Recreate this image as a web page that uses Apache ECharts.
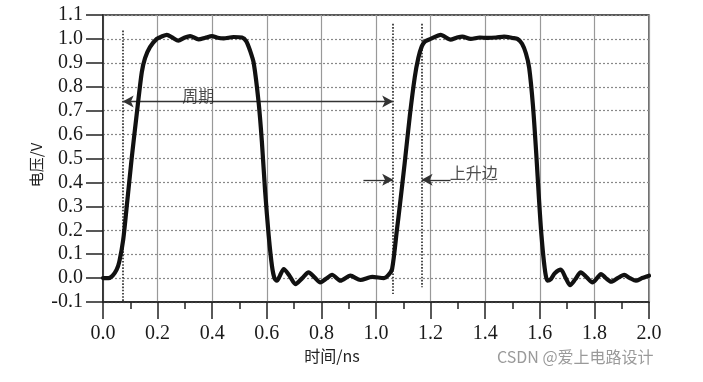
<!DOCTYPE html>
<html><head><meta charset="utf-8">
<script src="https://cdn.jsdelivr.net/npm/echarts@6/dist/echarts.min.js"></script>
<style>html,body{margin:0;padding:0;background:#fff}#c{width:703px;height:382px}</style>
</head><body><div id="c"></div>
<script>
// waveform samples (time in ns, voltage in V)
const timeNs = [0, 0.02, 0.035, 0.05, 0.06, 0.074, 0.087, 0.105, 0.124, 0.142, 0.154, 0.172, 0.197, 0.215, 0.234, 0.255, 0.276, 0.298, 0.319, 0.35, 0.375, 0.399, 0.42, 0.441, 0.478, 0.509, 0.525, 0.539, 0.552, 0.57, 0.582, 0.594, 0.607, 0.619, 0.628, 0.637, 0.648, 0.662, 0.683, 0.705, 0.73, 0.753, 0.775, 0.796, 0.818, 0.839, 0.87, 0.906, 0.943, 0.986, 1.029, 1.045, 1.059, 1.077, 1.087, 1.105, 1.124, 1.142, 1.155, 1.168, 1.18, 1.2, 1.237, 1.273, 1.295, 1.316, 1.347, 1.38, 1.41, 1.44, 1.469, 1.5, 1.518, 1.535, 1.549, 1.561, 1.575, 1.587, 1.597, 1.606, 1.617, 1.628, 1.64, 1.655, 1.677, 1.695, 1.711, 1.73, 1.75, 1.772, 1.793, 1.81, 1.824, 1.842, 1.861, 1.885, 1.909, 1.93, 1.952, 1.975, 2.0];
const voltage = [0, 0, 0.01, 0.035, 0.07, 0.16, 0.30, 0.50, 0.69, 0.86, 0.92, 0.966, 1.0, 1.01, 1.017, 1.005, 0.993, 1.005, 1.012, 0.998, 1.005, 1.012, 1.005, 1.002, 1.008, 1.006, 0.99, 0.95, 0.9, 0.735, 0.57, 0.36, 0.177, 0.05, 0.0, -0.011, 0.01, 0.038, 0.01, -0.025, 0.0, 0.024, 0.003, -0.018, -0.002, 0.014, -0.011, 0.01, -0.008, 0.005, 0.0, 0.012, 0.038, 0.205, 0.30, 0.48, 0.68, 0.84, 0.92, 0.97, 0.99, 1.0, 1.017, 0.997, 1.005, 1.01, 1.0, 1.006, 1.004, 1.006, 1.01, 1.004, 1.0, 0.98, 0.94, 0.88, 0.72, 0.52, 0.33, 0.18, 0.05, -0.011, -0.005, 0.02, 0.035, 0.0, -0.03, -0.005, 0.024, 0.003, -0.018, 0.0, 0.017, 0.0, -0.015, 0.0, 0.013, 0.0, -0.011, 0.0, 0.01];

// annotation geometry (data units)
const markerX = [0.072, 1.063, 1.167];
const markerTop = [1.035, 1.063, 1.063];
const markerBottom = [-0.1, -0.067, -0.038];
const periodArrow = {from: 0.072, to: 1.063, y: 0.738};
const riseArrowLeft = {from: 0.954, to: 1.063, y: 0.411};
const riseArrowRight = {from: 1.273, to: 1.167, y: 0.411};
const annotationNames = ['周期', '上升边'];
const annotationPos = [[0.349, 0.763], [1.27, 0.438]];

const xTicks = {min: 0, max: 2, step: 0.2};
const yTicks = {min: -0.1, max: 1.1, step: 0.1};

const chart = echarts.init(document.getElementById('c'));
const serif = 'Liberation Serif';
const cjk = 'Noto Sans CJK SC';

const waveData = timeNs.map((t, i) => [t, voltage[i]]);

const markLines = [];
markerX.forEach((x, i) => {
  markLines.push([{coord: [x, markerTop[i]], lineStyle: {type: 'dotted', width: 1.6, color: '#222'}, symbol: 'none'},
                  {coord: [x, markerBottom[i]], symbol: 'none'}]);
});
const arrowStyle = {type: 'solid', width: 1.3, color: '#333'};
markLines.push([{coord: [periodArrow.from, periodArrow.y], symbol: 'arrow', lineStyle: arrowStyle},
                {coord: [periodArrow.to, periodArrow.y], symbol: 'arrow'}]);
markLines.push([{coord: [riseArrowLeft.from, riseArrowLeft.y], symbol: 'none', lineStyle: arrowStyle},
                {coord: [riseArrowLeft.to, riseArrowLeft.y], symbol: 'arrow'}]);
markLines.push([{coord: [riseArrowRight.from, riseArrowRight.y], symbol: 'none', lineStyle: arrowStyle},
                {coord: [riseArrowRight.to, riseArrowRight.y], symbol: 'arrow'}]);

const numRich = {n: {fontFamily: serif, fontSize: 20, color: '#1a1a1a'}};
const numFmt = v => '{n|' + v.toFixed(1) + '}';

chart.setOption({
  animation: false,
  backgroundColor: '#fff',
  grid: {left: 103, right: 54, top: 15, bottom: 80, show: true, borderColor: '#222', borderWidth: 1.3, backgroundColor: 'transparent'},
  xAxis: {
    type: 'value', min: xTicks.min, max: xTicks.max, interval: xTicks.step,
    axisLine: {onZero: false, lineStyle: {color: '#222', width: 1.5}},
    axisTick: {show: true, length: 17, lineStyle: {color: '#222', width: 1.5}},
    minorTick: {show: true, splitNumber: 2, length: 7, lineStyle: {color: '#222', width: 1.5}},
    splitLine: {show: true, lineStyle: {color: '#999', width: 1.2}},
    axisLabel: {margin: 22, fontFamily: serif, fontSize: 20, color: '#1a1a1a', formatter: numFmt, rich: numRich}
  },
  yAxis: {
    type: 'value', min: yTicks.min, max: yTicks.max, interval: yTicks.step,
    axisLine: {onZero: false, lineStyle: {color: '#222', width: 1.5}},
    axisTick: {show: true, length: 17, lineStyle: {color: '#222', width: 1.5}},
    splitLine: {show: true, lineStyle: {color: '#888', width: 1.2, type: [2, 2]}},
    axisLabel: {margin: 20, fontFamily: serif, fontSize: 20, color: '#1a1a1a', formatter: numFmt, rich: numRich}
  },
  graphic: [
    {type: 'text', x: 36, y: 165, rotation: Math.PI / 2, style: {text: '电压/V', font: '15px "Noto Sans CJK SC"', fill: '#222', align: 'center', verticalAlign: 'middle'}},
    {type: 'text', x: 332, y: 356, style: {text: '时间/ns', font: '16px "Noto Sans CJK SC"', fill: '#222', align: 'center', verticalAlign: 'middle'}},
    {type: 'text', x: 497, y: 357, style: {text: 'CSDN @爱上电路设计', font: '16px "Noto Sans CJK SC"', fill: '#9a9a9a', verticalAlign: 'middle'}}
  ],
  series: [
    {
      type: 'line', data: waveData, showSymbol: false, smooth: 0.25,
      lineStyle: {color: '#111', width: 4.2, join: 'round', cap: 'round'}, z: 5,
      markLine: {silent: true, symbolSize: [9, 11], label: {show: false}, data: markLines, animation: false}
    },
    {
      type: 'scatter', symbolSize: 0, z: 6,
      data: annotationPos.map((p, i) => ({name: annotationNames[i], value: p,
        label: {position: 'inside', align: i === 0 ? 'center' : 'left', verticalAlign: 'middle'}})),
      label: {show: true, formatter: p => p.name, fontFamily: cjk, fontSize: 16, color: '#222'}
    }
  ]
});
</script></body></html>
